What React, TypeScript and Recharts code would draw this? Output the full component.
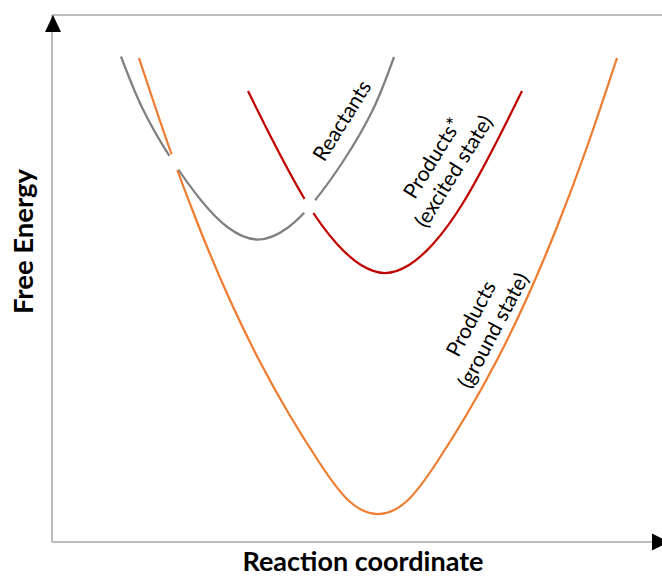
import React from 'react';
import { LineChart, Line, XAxis, YAxis, Scatter, ReferenceDot, ReferenceLine } from 'recharts';

// curves: [reaction coordinate, free energy]
const reactants: [number, number][] = [
  [69, 485.5], [91, 432.5], [121, 380.5], [150, 340.5], [176, 314.5], [206, 302.5],
  [236, 314.5], [262, 340.5], [291, 380.5], [321, 432.5], [342, 485],
];
const productsExcited: [number, number][] = [
  [196, 451], [221, 401], [255, 339], [285, 298], [309, 277], [333, 269],
  [357, 277], [381, 298], [411, 339], [445, 401], [470, 451],
];
const productsGround: [number, number][] = [
  [87, 484], [117, 395], [147, 315], [177, 244], [207, 182], [237, 128], [267, 80],
  [296, 42], [326, 28], [356, 42], [385, 80], [415, 128], [445, 182], [475, 244],
  [505, 315], [535, 395], [565, 484],
];
// where two curves cross, both are broken
const crossings: [number, number][] = [[123, 380], [257, 336]];

const curveLabels = [
  { x: 289, y: 422, lines: ['Reactants'], angle: -58 },
  { x: 390, y: 378, lines: ['Products*', '(excited state)'], angle: -58 },
  { x: 429, y: 218, lines: ['Products', '(ground state)'], angle: -62 },
];

const X_MAX = 610;
const Y_MAX = 527;
const AXIS = '#a6a6a6';
const FONT = 'Lato, "Open Sans", sans-serif';

const pts = (arr: [number, number][]) => arr.map(([x, y]) => ({ x, y }));

const CurveLabel = (lines: string[], angle: number) => (p: any) => {
  const { cx, cy } = p;
  return (
    <g transform={`rotate(${angle} ${cx} ${cy})`}>
      {lines.map((t, i) => (
        <text
          key={t}
          x={cx}
          y={cy + (i - (lines.length - 1) / 2) * 25}
          textAnchor="middle"
          dominantBaseline="central"
          fontFamily={FONT}
          fontSize={21}
          fill="#000"
        >
          {t}
        </text>
      ))}
    </g>
  );
};

const UpArrow = (p: any) => (
  <polygon points={`${p.cx + 1},${p.cy} ${p.cx - 7},${p.cy + 17} ${p.cx + 9},${p.cy + 17}`} fill="#000" />
);
const RightArrow = (p: any) => (
  <polygon points={`${p.cx},${p.cy - 8.5} ${p.cx},${p.cy + 8.5} ${p.cx + 17},${p.cy}`} fill="#000" />
);
const Gap = (p: any) => <circle cx={p.cx} cy={p.cy} r={8.5} fill="#fff" />;

const XTitle = (p: any) => (
  <text x={p.cx + 6} y={p.cy + 29} textAnchor="middle" fontFamily={FONT} fontWeight={700} fontSize={27} fill="#000">
    Reaction coordinate
  </text>
);
const YTitle = (p: any) => {
  const cx = p.cx - 30;
  const cy = p.cy - 37;
  return (
    <text
      x={cx}
      y={cy}
      transform={`rotate(-90 ${cx} ${cy})`}
      textAnchor="middle"
      dominantBaseline="central"
      fontFamily={FONT}
      fontWeight={700}
      fontSize={27.5}
      fill="#000"
    >
      Free Energy
    </text>
  );
};

export default function App() {
  return (
    <div style={{ position: 'absolute', left: 0, top: 0, width: 662, height: 576, overflow: 'hidden', background: '#fff' }}>
      <LineChart width={662} height={576} margin={{ top: 15, right: 0, bottom: 34, left: 52 }}>
        <XAxis type="number" dataKey="x" domain={[0, X_MAX]} hide />
        <YAxis type="number" dataKey="y" domain={[0, Y_MAX]} hide />
        <ReferenceLine y={Y_MAX} stroke={AXIS} strokeWidth={1.5} ifOverflow="visible" />
        <ReferenceLine y={0} stroke={AXIS} strokeWidth={1.5} ifOverflow="visible" />
        <ReferenceLine x={0} stroke={AXIS} strokeWidth={1.5} ifOverflow="visible" />
        <Line data={pts(reactants)} dataKey="y" type="natural" stroke="#808080" strokeWidth={2.25} dot={false} isAnimationActive={false} />
        <Line data={pts(productsExcited)} dataKey="y" type="natural" stroke="#c00000" strokeWidth={2.25} dot={false} isAnimationActive={false} />
        <Line data={pts(productsGround)} dataKey="y" type="natural" stroke="#ed7d31" strokeWidth={2.25} dot={false} isAnimationActive={false} />
        <Scatter data={pts(crossings)} dataKey="y" shape={Gap} isAnimationActive={false} />
        {curveLabels.map((l) => (
          <ReferenceDot key={l.lines[0]} x={l.x} y={l.y} r={0} ifOverflow="visible" shape={CurveLabel(l.lines, l.angle)} />
        ))}
        <ReferenceDot x={0} y={Y_MAX} r={0} ifOverflow="visible" shape={UpArrow} />
        <ReferenceDot x={600} y={0} r={0} ifOverflow="visible" shape={RightArrow} />
        <ReferenceDot x={X_MAX / 2} y={0} r={0} ifOverflow="visible" shape={XTitle} />
        <ReferenceDot x={0} y={Y_MAX / 2} r={0} ifOverflow="visible" shape={YTitle} />
      </LineChart>
    </div>
  );
}
